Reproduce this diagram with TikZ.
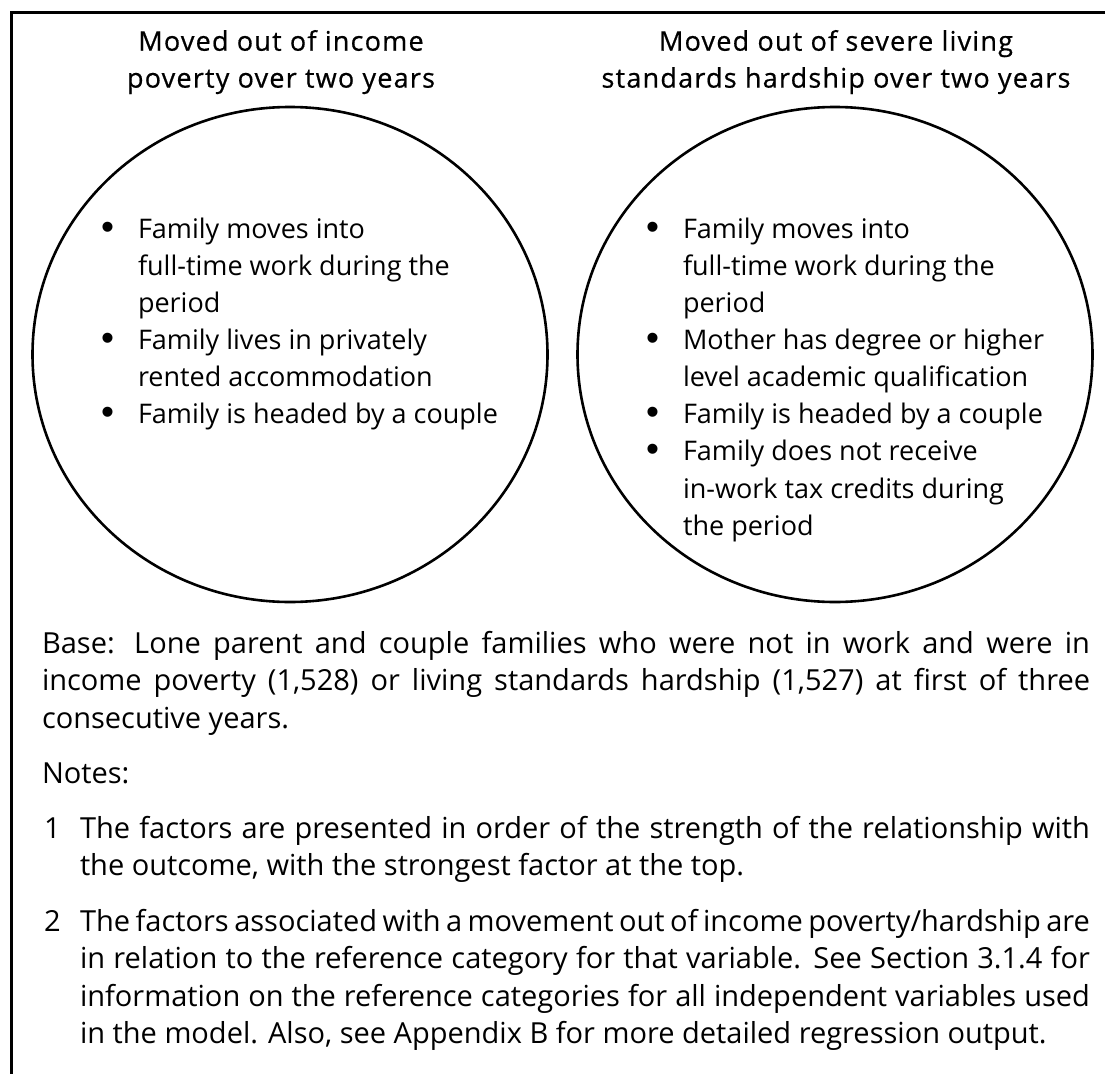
\documentclass[tikz,border=0pt]{standalone}
\usepackage{fontspec}
\setmainfont{Open Sans}
\newfontfamily\hdfont{Open Sans}[LetterSpace=4.5, FakeBold=0.6]
\newfontfamily\bulfont{Liberation Sans}
\usetikzlibrary{shapes.geometric}
\tikzset{
  every node/.style={inner sep=0pt, outer sep=0pt},
  body/.style={anchor=base west, font=\fontsize{27}{37}\selectfont},
  note/.style={anchor=base west, font=\fontsize{29}{37}\selectfont},
  head/.style={anchor=base, font=\hdfont\fontsize{27}{37}\selectfont},
  bul/.style={anchor=base, font=\bulfont\fontsize{37}{37}\selectfont},
  ring/.style={draw, ellipse, line width=2.6pt, minimum width=515pt, minimum height=495pt},
  frame/.style={line width=3pt, line join=miter}
}
\newcommand{\jline}[2]{\makebox[#1][s]{#2}}
\begin{document}
\begin{tikzpicture}[x=1pt,y=-1pt]
\useasboundingbox (0,0) rectangle (1105,1073);
\coordinate (ftl) at (11.7,12.7);
\coordinate (ftr) at (1106,12.7);
\coordinate (fbl) at (11.7,1074);
\draw[frame] (ftr) -- (ftl) -- (fbl);

\node[ring] (c1) at (290,354.5) {};
\node[ring] (c2) at (835,354.5) {};

% headers
\node[head] (h1a) at (281,50.7) {Moved out of income};
\node[head] (h1b) at (281,87.6) {poverty over two years};
\node[head] (h2a) at (836,50.7) {Moved out of severe living};
\node[head] (h2b) at (836,87.6) {standards hardship over two years};

% left circle list
\node[bul]  (ld1) at (107.5,239.3) {•};
\node[body] (l1)  at (138,238.3) {Family moves into};
\node[body] (l2)  at (138,275.4) {full-time work during the};
\node[body] (l3)  at (138,312.5) {period};
\node[bul]  (ld2) at (107.5,350.6) {•};
\node[body] (l4)  at (138,349.6) {Family lives in privately};
\node[body] (l5)  at (138,386.7) {rented accommodation};
\node[bul]  (ld3) at (107.5,424.8) {•};
\node[body] (l6)  at (138,423.8) {Family is headed by a couple};

% right circle list
\node[bul]  (rd1) at (652.5,239.3) {•};
\node[body] (r1)  at (683,238.3) {Family moves into};
\node[body] (r2)  at (683,275.4) {full-time work during the};
\node[body] (r3)  at (683,312.5) {period};
\node[bul]  (rd2) at (652.5,350.6) {•};
\node[body] (r4)  at (683,349.6) {Mother has degree or higher};
\node[body] (r5)  at (683,386.7) {level academic qualification};
\node[bul]  (rd3) at (652.5,424.8) {•};
\node[body] (r6)  at (683,423.8) {Family is headed by a couple};
\node[bul]  (rd4) at (652.5,461.9) {•};
\node[body] (r7)  at (683,460.9) {Family does not receive};
\node[body] (r8)  at (683,498.0) {in-work tax credits during};
\node[body] (r9)  at (683,535.1) {the period};

% base text
\node[note] (b1) at (42,653) {\jline{1048pt}{Base: Lone parent and couple families who were not in work and were in}};
\node[note] (b2) at (42,690.5) {\jline{1048pt}{income poverty (1,528) or living standards hardship (1,527) at first of three}};
\node[note] (b3) at (42,728) {consecutive years.};
\node[note] (nt) at (42,783) {Notes:};

% note 1
\node[note] (n1) at (44,838) {1};
\node[note] (n1a) at (80,838) {\jline{1010pt}{The factors are presented in order of the strength of the relationship with}};
\node[note] (n1b) at (80,875.5) {the outcome, with the strongest factor at the top.};

% note 2
\node[note] (n2) at (44,931) {2};
\node[note] (n2a) at (80,931) {\jline{1010pt}{The factors associated with a movement out of income poverty/hardship are}};
\node[note] (n2b) at (80,968.5) {\jline{1010pt}{in relation to the reference category for that variable. See Section 3.1.4 for}};
\node[note] (n2c) at (80,1006) {\jline{1010pt}{information on the reference categories for all independent variables used}};
\node[note] (n2d) at (80,1043.5) {in the model. Also, see Appendix B for more detailed regression output.};
\end{tikzpicture}
\end{document}
